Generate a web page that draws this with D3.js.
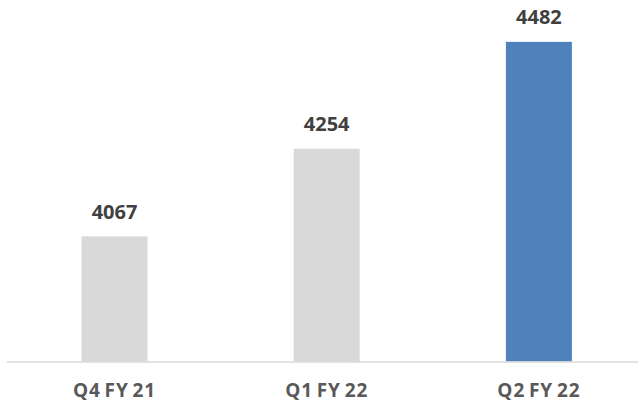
<!DOCTYPE html>
<html>
<head>
<meta charset="utf-8">
<script src="https://cdn.jsdelivr.net/npm/d3@7"></script>
<style>
  body { margin: 0; background: #fff; }
</style>
</head>
<body>
<div class="chart"></div>
<script>
var categories = ['Q4 FY 21', 'Q1 FY 22', 'Q2 FY 22'];
var values = [4067, 4254, 4482];
var barColors = ['#d9d9d9', '#d9d9d9', '#4f81bd'];

var width = 638;
var height = 406;
var baseline = 361.5;

var svg = d3.select('.chart').append('svg')
	.attr('width', width)
	.attr('height', height);

// band scale spans the plot, bars are ~31% of a band
var x = d3.scaleBand()
	.domain(categories)
	.range([8.4, 645])
	.paddingInner(0.689)
	.paddingOuter(0.3445);

var y = d3.scaleLinear()
	.domain([3800, 4500])
	.range([baseline, baseline - 700 * 0.4687]);

var data = categories.map(function(c, i) {
	return { cat: c, val: values[i], color: barColors[i] };
});

svg.selectAll('rect.bar')
	.data(data)
	.enter()
	.append('rect')
	.attr('class', 'bar')
	.attr('x', function(d) { return x(d.cat); })
	.attr('y', function(d) { return y(d.val); })
	.attr('width', x.bandwidth())
	.attr('height', function(d) { return baseline - y(d.val); })
	.style('fill', function(d) { return d.color; });

// x axis
var xAxis = svg.append('g')
	.attr('transform', 'translate(0,' + baseline + ')')
	.call(d3.axisBottom(x).tickSize(0).tickPadding(0));
xAxis.select('.domain').remove();
xAxis.append('line')
	.attr('x1', 7).attr('x2', width)
	.attr('y1', 0.5).attr('y2', 0.5)
	.attr('stroke', '#d9d9d9')
	.attr('stroke-width', 1.5);
xAxis.selectAll('.tick text')
	.attr('y', 35.5)
	.attr('dy', 0)
	.attr('font-family', '"Open Sans", sans-serif')
	.attr('font-weight', 700)
	.attr('font-size', '19px')
	.attr('letter-spacing', '0.9px')
	.attr('word-spacing', '-2px')
	.attr('fill', '#595959');

// value labels
svg.selectAll('text.val')
	.data(data)
	.enter()
	.append('text')
	.attr('class', 'val')
	.attr('x', function(d) { return x(d.cat) + x.bandwidth() / 2; })
	.attr('y', function(d) { return y(d.val) - 17.5; })
	.attr('text-anchor', 'middle')
	.attr('font-family', '"Open Sans", sans-serif')
	.attr('font-weight', 700)
	.attr('font-size', '20px')
	.attr('fill', '#404040')
	.text(function(d) { return d.val; });
</script>
</body>
</html>
